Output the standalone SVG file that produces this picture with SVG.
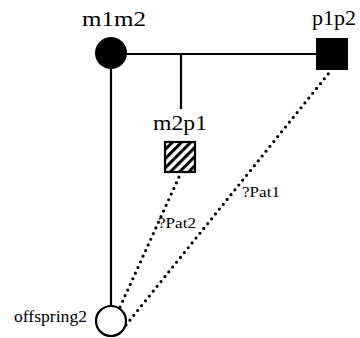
<svg xmlns="http://www.w3.org/2000/svg" width="360" height="338" viewBox="0 0 360 338">
<style>
text{font-family:"Liberation Serif","DejaVu Serif","Times New Roman",serif;fill:#000}
.big{font-size:21px}
.sm{font-size:15px}
.solid{stroke:#000;stroke-width:2.2;fill:none}
.dot{stroke:#000;stroke-width:3.2;stroke-linecap:round;stroke-dasharray:0 6.2;fill:none}
</style>
<defs>
<pattern id="hatch" patternUnits="userSpaceOnUse" width="6.5" height="6.5" patternTransform="rotate(45)">
<rect width="6.5" height="6.5" fill="#fff"/>
<line x1="1.5" y1="0" x2="1.5" y2="6.5" stroke="#000" stroke-width="3"/>
</pattern>
</defs>
<rect width="360" height="338" fill="#fff"/>
<g id="connectors">
<line class="solid" x1="111" y1="54" x2="318" y2="54"/>
<line class="solid" x1="181" y1="54" x2="181" y2="109"/>
<line class="solid" x1="111" y1="60" x2="111" y2="307"/>
<line class="dot" x1="120" y1="307" x2="179" y2="177"/>
<line class="dot" x1="126" y1="325" x2="329" y2="73"/>
<text class="sm" font-family="Liberation Serif, serif" x="158" y="228" textLength="38" lengthAdjust="spacingAndGlyphs">?Pat2</text>
<text class="sm" font-family="Liberation Serif, serif" x="242" y="197" textLength="38" lengthAdjust="spacingAndGlyphs">?Pat1</text>
</g>
<g id="m1m2">
<circle cx="111" cy="53" r="16" fill="#000"/>
<text class="big" font-family="Liberation Serif, serif" x="82" y="26" textLength="64" lengthAdjust="spacingAndGlyphs">m1m2</text>
</g>
<g id="p1p2">
<rect x="316" y="38" width="32" height="32" fill="#000"/>
<text class="big" font-family="Liberation Serif, serif" x="312" y="25" textLength="44" lengthAdjust="spacingAndGlyphs">p1p2</text>
</g>
<g id="m2p1">
<rect x="165" y="142" width="30" height="30" fill="url(#hatch)" stroke="#000" stroke-width="2.2"/>
<text class="big" font-family="Liberation Serif, serif" x="153" y="130" textLength="54" lengthAdjust="spacingAndGlyphs">m2p1</text>
</g>
<g id="offspring2">
<circle cx="111" cy="321" r="15" fill="#fff" stroke="#000" stroke-width="2.2"/>
<text font-size="16" font-family="Liberation Serif, serif" x="14" y="322" textLength="73" lengthAdjust="spacingAndGlyphs">offspring2</text>
</g>
</svg>
